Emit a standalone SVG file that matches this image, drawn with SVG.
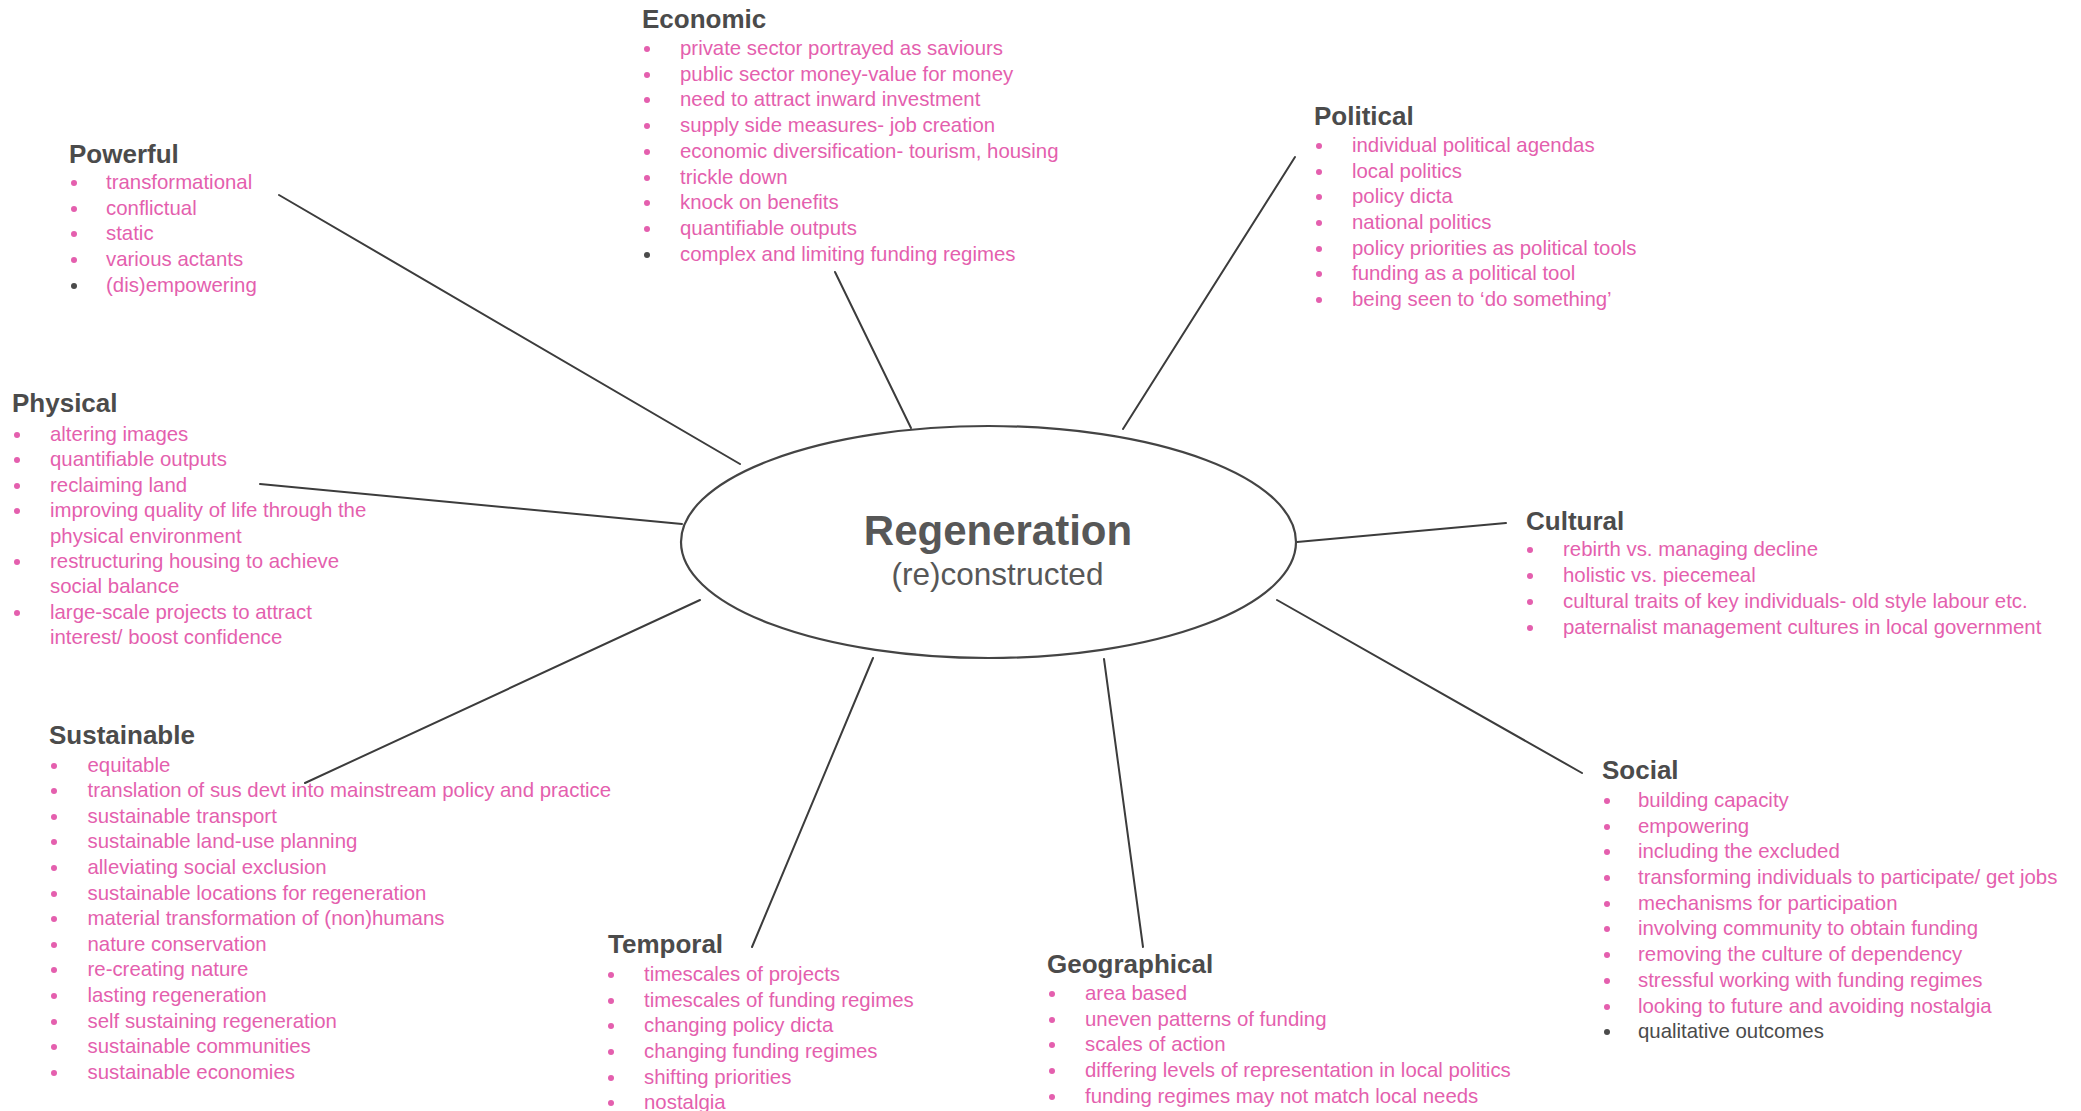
<svg xmlns="http://www.w3.org/2000/svg" width="2081" height="1111" viewBox="0 0 2081 1111">
  <style>
    text { font-family: "Liberation Sans", Arial, sans-serif; }
    .hd { font-size: 26px; font-weight: bold; fill: #4b4b4b; }
    .it { font-size: 20.4px; fill: #e45fae; }
    .itd { font-size: 20.4px; fill: #4b4b4b; }
    .bp { fill: #e45fae; }
    .bd { fill: #4b4b4b; }
    .conn line { stroke: #3c3c3c; stroke-width: 2; stroke-linecap: round; }
    .core { fill: #ffffff; stroke: #444444; stroke-width: 2.2; }
    .t1 { font-size: 42px; font-weight: bold; fill: #575757; text-anchor: middle; }
    .t2 { font-size: 31.5px; fill: #575757; text-anchor: middle; }
  </style>
  <rect width="2081" height="1111" fill="#ffffff"/>

  <!-- spokes from the central ellipse out to each theme -->
  <g id="connectors" class="conn">
    <line x1="279" y1="195" x2="740" y2="464"/>
    <line x1="835" y1="272" x2="911" y2="428"/>
    <line x1="1295" y1="157" x2="1123" y2="429"/>
    <line x1="260" y1="484" x2="682" y2="524"/>
    <line x1="1297" y1="542" x2="1506" y2="523"/>
    <line x1="1277" y1="600" x2="1582" y2="773"/>
    <line x1="1104" y1="659" x2="1143" y2="947"/>
    <line x1="873" y1="658" x2="752" y2="947"/>
    <line x1="700" y1="600" x2="305" y2="783"/>
  </g>

  <g id="centre">
    <ellipse class="core" cx="988.5" cy="542" rx="307.5" ry="116"/>
    <text class="t1" x="998" y="545">Regeneration</text>
    <text class="t2" x="997.5" y="585">(re)constructed</text>
  </g>

  <g id="powerful">
    <text class="hd" x="69" y="163">Powerful</text>
    <circle class="bp" cx="74" cy="183" r="3"/><text class="it" x="106" y="189">transformational</text>
    <circle class="bp" cx="74" cy="209" r="3"/><text class="it" x="106" y="215">conflictual</text>
    <circle class="bp" cx="74" cy="234" r="3"/><text class="it" x="106" y="240">static</text>
    <circle class="bp" cx="74" cy="260" r="3"/><text class="it" x="106" y="266">various actants</text>
    <circle class="bd" cx="74" cy="286" r="3"/><text class="it" x="106" y="292">(dis)empowering</text>
  </g>

  <g id="economic">
    <text class="hd" x="642" y="28">Economic</text>
    <circle class="bp" cx="647" cy="49" r="3"/><text class="it" x="680" y="55">private sector portrayed as saviours</text>
    <circle class="bp" cx="647" cy="75" r="3"/><text class="it" x="680" y="81">public sector money-value for money</text>
    <circle class="bp" cx="647" cy="100" r="3"/><text class="it" x="680" y="106">need to attract inward investment</text>
    <circle class="bp" cx="647" cy="126" r="3"/><text class="it" x="680" y="132">supply side measures- job creation</text>
    <circle class="bp" cx="647" cy="152" r="3"/><text class="it" x="680" y="158">economic diversification- tourism, housing</text>
    <circle class="bp" cx="647" cy="178" r="3"/><text class="it" x="680" y="184">trickle down</text>
    <circle class="bp" cx="647" cy="203" r="3"/><text class="it" x="680" y="209">knock on benefits</text>
    <circle class="bp" cx="647" cy="229" r="3"/><text class="it" x="680" y="235">quantifiable outputs</text>
    <circle class="bd" cx="647" cy="255" r="3"/><text class="it" x="680" y="261">complex and limiting funding regimes</text>
  </g>

  <g id="political">
    <text class="hd" x="1314" y="125">Political</text>
    <circle class="bp" cx="1319" cy="146" r="3"/><text class="it" x="1352" y="152">individual political agendas</text>
    <circle class="bp" cx="1319" cy="172" r="3"/><text class="it" x="1352" y="178">local politics</text>
    <circle class="bp" cx="1319" cy="197" r="3"/><text class="it" x="1352" y="203">policy dicta</text>
    <circle class="bp" cx="1319" cy="223" r="3"/><text class="it" x="1352" y="229">national politics</text>
    <circle class="bp" cx="1319" cy="249" r="3"/><text class="it" x="1352" y="255">policy priorities as political tools</text>
    <circle class="bp" cx="1319" cy="274" r="3"/><text class="it" x="1352" y="280">funding as a political tool</text>
    <circle class="bp" cx="1319" cy="300" r="3"/><text class="it" x="1352" y="306">being seen to ‘do something’</text>
  </g>

  <g id="physical">
    <text class="hd" x="12" y="412">Physical</text>
    <circle class="bp" cx="17" cy="435" r="3"/><text class="it" x="50" y="441">altering images</text>
    <circle class="bp" cx="17" cy="460" r="3"/><text class="it" x="50" y="466">quantifiable outputs</text>
    <circle class="bp" cx="17" cy="486" r="3"/><text class="it" x="50" y="492">reclaiming land</text>
    <circle class="bp" cx="17" cy="511" r="3"/><text class="it" x="50" y="517">improving quality of life through the</text>
    <text class="it" x="50" y="543">physical environment</text>
    <circle class="bp" cx="17" cy="562" r="3"/><text class="it" x="50" y="568">restructuring housing to achieve</text>
    <text class="it" x="50" y="593">social balance</text>
    <circle class="bp" cx="17" cy="613" r="3"/><text class="it" x="50" y="619">large-scale projects to attract</text>
    <text class="it" x="50" y="644">interest/ boost confidence</text>
  </g>

  <g id="cultural">
    <text class="hd" x="1526" y="530">Cultural</text>
    <circle class="bp" cx="1530" cy="550" r="3"/><text class="it" x="1563" y="556">rebirth vs. managing decline</text>
    <circle class="bp" cx="1530" cy="576" r="3"/><text class="it" x="1563" y="582">holistic vs. piecemeal</text>
    <circle class="bp" cx="1530" cy="602" r="3"/><text class="it" x="1563" y="608">cultural traits of key individuals- old style labour etc.</text>
    <circle class="bp" cx="1530" cy="628" r="3"/><text class="it" x="1563" y="634">paternalist management cultures in local government</text>
  </g>

  <g id="sustainable">
    <text class="hd" x="49" y="744">Sustainable</text>
    <circle class="bp" cx="54" cy="766" r="3"/><text class="it" x="87.5" y="772">equitable</text>
    <circle class="bp" cx="54" cy="791" r="3"/><text class="it" x="87.5" y="797">translation of sus devt into mainstream policy and practice</text>
    <circle class="bp" cx="54" cy="817" r="3"/><text class="it" x="87.5" y="823">sustainable transport</text>
    <circle class="bp" cx="54" cy="842" r="3"/><text class="it" x="87.5" y="848">sustainable land-use planning</text>
    <circle class="bp" cx="54" cy="868" r="3"/><text class="it" x="87.5" y="874">alleviating social exclusion</text>
    <circle class="bp" cx="54" cy="894" r="3"/><text class="it" x="87.5" y="900">sustainable locations for regeneration</text>
    <circle class="bp" cx="54" cy="919" r="3"/><text class="it" x="87.5" y="925">material transformation of (non)humans</text>
    <circle class="bp" cx="54" cy="945" r="3"/><text class="it" x="87.5" y="951">nature conservation</text>
    <circle class="bp" cx="54" cy="970" r="3"/><text class="it" x="87.5" y="976">re-creating nature</text>
    <circle class="bp" cx="54" cy="996" r="3"/><text class="it" x="87.5" y="1002">lasting regeneration</text>
    <circle class="bp" cx="54" cy="1022" r="3"/><text class="it" x="87.5" y="1028">self sustaining regeneration</text>
    <circle class="bp" cx="54" cy="1047" r="3"/><text class="it" x="87.5" y="1053">sustainable communities</text>
    <circle class="bp" cx="54" cy="1073" r="3"/><text class="it" x="87.5" y="1079">sustainable economies</text>
  </g>

  <g id="temporal">
    <text class="hd" x="608" y="953">Temporal</text>
    <circle class="bp" cx="611" cy="975" r="3"/><text class="it" x="644" y="981">timescales of projects</text>
    <circle class="bp" cx="611" cy="1001" r="3"/><text class="it" x="644" y="1007">timescales of funding regimes</text>
    <circle class="bp" cx="611" cy="1026" r="3"/><text class="it" x="644" y="1032">changing policy dicta</text>
    <circle class="bp" cx="611" cy="1052" r="3"/><text class="it" x="644" y="1058">changing funding regimes</text>
    <circle class="bp" cx="611" cy="1078" r="3"/><text class="it" x="644" y="1084">shifting priorities</text>
    <circle class="bp" cx="611" cy="1103" r="3"/><text class="it" x="644" y="1109">nostalgia</text>
  </g>

  <g id="geographical">
    <text class="hd" x="1047" y="973">Geographical</text>
    <circle class="bp" cx="1052" cy="994" r="3"/><text class="it" x="1085" y="1000">area based</text>
    <circle class="bp" cx="1052" cy="1020" r="3"/><text class="it" x="1085" y="1026">uneven patterns of funding</text>
    <circle class="bp" cx="1052" cy="1045" r="3"/><text class="it" x="1085" y="1051">scales of action</text>
    <circle class="bp" cx="1052" cy="1071" r="3"/><text class="it" x="1085" y="1077">differing levels of representation in local politics</text>
    <circle class="bp" cx="1052" cy="1097" r="3"/><text class="it" x="1085" y="1103">funding regimes may not match local needs</text>
  </g>

  <g id="social">
    <text class="hd" x="1602" y="779">Social</text>
    <circle class="bp" cx="1607" cy="801" r="3"/><text class="it" x="1638" y="807">building capacity</text>
    <circle class="bp" cx="1607" cy="827" r="3"/><text class="it" x="1638" y="833">empowering</text>
    <circle class="bp" cx="1607" cy="852" r="3"/><text class="it" x="1638" y="858">including the excluded</text>
    <circle class="bp" cx="1607" cy="878" r="3"/><text class="it" x="1638" y="884">transforming individuals to participate/ get jobs</text>
    <circle class="bp" cx="1607" cy="904" r="3"/><text class="it" x="1638" y="910">mechanisms for participation</text>
    <circle class="bp" cx="1607" cy="929" r="3"/><text class="it" x="1638" y="935">involving community to obtain funding</text>
    <circle class="bp" cx="1607" cy="955" r="3"/><text class="it" x="1638" y="961">removing the culture of dependency</text>
    <circle class="bp" cx="1607" cy="981" r="3"/><text class="it" x="1638" y="987">stressful working with funding regimes</text>
    <circle class="bp" cx="1607" cy="1007" r="3"/><text class="it" x="1638" y="1013">looking to future and avoiding nostalgia</text>
    <circle class="bd" cx="1607" cy="1032" r="3"/><text class="itd" x="1638" y="1038">qualitative outcomes</text>
  </g>
</svg>
